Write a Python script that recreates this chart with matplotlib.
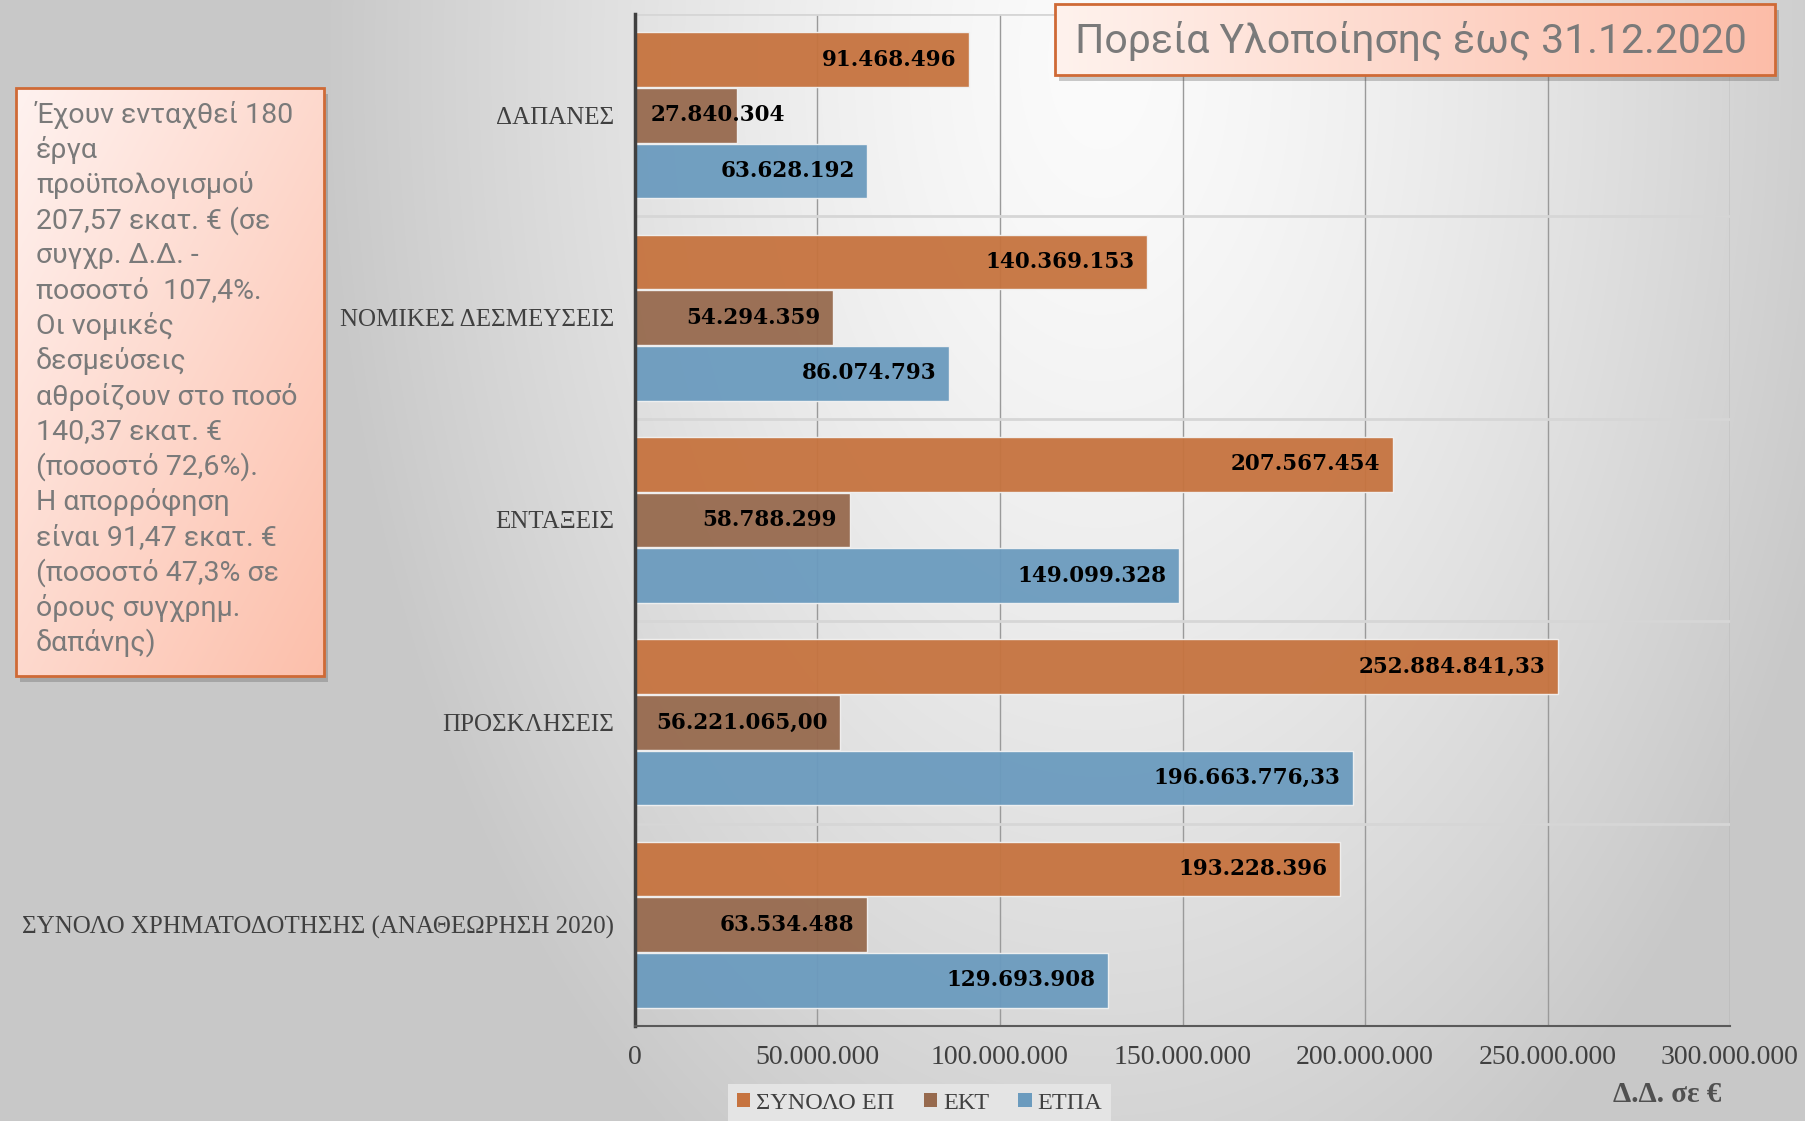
import numpy as np
import matplotlib.pyplot as plt
from matplotlib.patches import Rectangle, Patch

# data
categories = ['ΔΑΠΑΝΕΣ', 'ΝΟΜΙΚΕΣ ΔΕΣΜΕΥΣΕΙΣ', 'ΕΝΤΑΞΕΙΣ', 'ΠΡΟΣΚΛΗΣΕΙΣ',
              'ΣΥΝΟΛΟ ΧΡΗΜΑΤΟΔΟΤΗΣΗΣ (ΑΝΑΘΕΩΡΗΣΗ 2020)']
series_names = ['ΣΥΝΟΛΟ ΕΠ', 'ΕΚΤ', 'ΕΤΠΑ']
synolo_ep = [91468496, 140369153, 207567454, 252884841.33, 193228396]
ekt = [27840304, 54294359, 58788299, 56221065.00, 63534488]
etpa = [63628192, 86074793, 149099328, 196663776.33, 129693908]
decimals = [0, 0, 0, 2, 0]
x_ticks = [0, 50e6, 100e6, 150e6, 200e6, 250e6, 300e6]

title = 'Πορεία Υλοποίησης έως 31.12.2020'
note_lines = ['Έχουν ενταχθεί 180', 'έργα', 'προϋπολογισμού', '207,57 εκατ. € (σε',
              'συγχρ. Δ.Δ. -', 'ποσοστό  107,4%.', 'Οι νομικές', 'δεσμεύσεις',
              'αθροίζουν στο ποσό', '140,37 εκατ. €', '(ποσοστό 72,6%).',
              'Η απορρόφηση', 'είναι 91,47 εκατ. €', '(ποσοστό 47,3% σε',
              'όρους συγχρημ.', 'δαπάνης)']

colors = ['#C6733F', '#976A4E', '#6B9BBE']


def fmt(v, d=0):
    s = f"{v:,.{d}f}"
    return s.replace(',', '#').replace('.', ',').replace('#', '.')


W, H = 1806, 1121
fig = plt.figure(figsize=(W / 100, H / 100), dpi=100)

# background gradient
bg = fig.add_axes([0, 0, 1, 1], zorder=0)
bg.axis('off')
xx, yy = np.meshgrid(np.arange(0, W, 4), np.arange(0, H, 4))
d = np.sqrt(((xx - 1100) / 780.0) ** 2 + ((yy - 60) / 1300.0) ** 2)
v = 0.985 - 0.2 * np.clip(d, 0, 1) ** 1.4
bg.imshow(np.dstack([v, v, v]), extent=(0, W, H, 0), aspect='auto', interpolation='bilinear')
bg.set_xlim(0, W)
bg.set_ylim(H, 0)

# chart
ax = fig.add_axes([635 / W, 1 - 1026 / H, (1730 - 635) / W, (1026 - 14) / H], zorder=1)
ax.patch.set_alpha(0)
y = np.arange(len(categories))
offsets = [-0.275, 0.0, 0.275]
series = [synolo_ep, ekt, etpa]

for xt in x_ticks[1:]:
    ax.axvline(xt, color='#9a9a9a', lw=1, zorder=0)
for b in np.arange(-0.5, len(categories), 1.0):
    ax.axhline(b, color='#d6d6d6', lw=2, zorder=0)

for vals, off, c, name in zip(series, offsets, colors, series_names):
    ax.barh(y + off, vals, height=0.27, color=c, alpha=0.95, edgecolor='#f2f2f2',
            linewidth=1, zorder=2, label=name)
    for yi, val, dec in zip(y, vals, decimals):
        lab = fmt(val, dec)
        if val < 40e6:
            ax.annotate(lab, (0, yi + off), xytext=(11, 0), textcoords='offset points',
                        ha='left', va='center', fontsize=15.5, fontweight='bold',
                        family='DejaVu Serif', color='black', zorder=3)
        else:
            ax.annotate(lab, (val, yi + off), xytext=(-9, 0), textcoords='offset points',
                        ha='right', va='center', fontsize=15.5, fontweight='bold',
                        family='DejaVu Serif', color='black', zorder=3)

ax.set_xlim(0, 300e6)
ax.set_ylim(len(categories) - 0.5, -0.5)
ax.set_yticks(y)
ax.set_yticklabels(categories, family='Liberation Serif', fontsize=18, color='#404040')
ax.set_xticks(x_ticks)
ax.set_xticklabels([fmt(t) for t in x_ticks], family='Liberation Serif', fontsize=20,
                   color='#404040')
ax.tick_params(axis='y', length=0, pad=15)
ax.tick_params(axis='x', length=0, pad=14)
for s in ['top', 'right']:
    ax.spines[s].set_visible(False)
ax.spines['left'].set_color('#404040')
ax.spines['left'].set_linewidth(2.5)
ax.spines['bottom'].set_color('#5a5a5a')
ax.spines['bottom'].set_linewidth(1.5)

# overlay boxes
ov = fig.add_axes([0, 0, 1, 1], zorder=5)
ov.axis('off')
ov.patch.set_alpha(0)


def grad_box(x0, y0, x1, y1, c0, c1, diag):
    nx, ny = 200, 200
    gx, gy = np.meshgrid(np.linspace(0, 1, nx), np.linspace(0, 1, ny))
    t = (gx + gy) / 2 if diag else gx
    c0 = np.array(c0)
    c1 = np.array(c1)
    img = c0[None, None, :] * (1 - t[..., None]) + c1[None, None, :] * t[..., None]
    ov.add_patch(Rectangle((x0 + 4, y0 + 6), x1 - x0, y1 - y0, color='#555555', alpha=0.3,
                           lw=0, zorder=1))
    ov.imshow(img, extent=(x0, x1, y1, y0), aspect='auto', zorder=2)
    ov.add_patch(Rectangle((x0, y0), x1 - x0, y1 - y0, fill=False, edgecolor='#CF6A36',
                           lw=2, zorder=3))


grad_box(1055, 4, 1775, 75, (1.0, 0.95, 0.93), (0.99, 0.74, 0.66), False)
ov.text(1075, 41, title, ha='left', va='center', fontsize=29.5, family='Roboto',
        color='#7a7a7a', zorder=4)

grad_box(16, 88, 324, 676, (1.0, 0.95, 0.94), (0.99, 0.75, 0.67), True)
for i, line in enumerate(note_lines):
    ov.text(36, 115 + i * 35.2, line, ha='left', va='center', fontsize=20.5,
            family='Roboto', color='#7a7a7a', zorder=4)

ov.set_xlim(0, W)
ov.set_ylim(H, 0)

# axis title and legend
fig.text(1667 / W, 1 - 1095 / H, 'Δ.Δ. σε €', ha='center', va='center', fontsize=21,
         family='Liberation Serif', fontweight='bold', color='#505050')
handles = [Patch(facecolor=c, edgecolor='none', label=n) for c, n in zip(colors, series_names)]
leg = fig.legend(handles=handles, loc='upper left', bbox_to_anchor=(716 / W, 1 - 1072 / H),
                 ncol=3, frameon=True, facecolor='#e4e4e4', edgecolor='none', fancybox=False,
                 framealpha=1, handlelength=0.55, handleheight=0.55, handletextpad=0.25,
                 columnspacing=1.2, borderpad=0.35,
                 prop={'family': 'Liberation Serif', 'size': 17.5})
for t in leg.get_texts():
    t.set_color('#404040')

fig.savefig('out.png', dpi=100)
